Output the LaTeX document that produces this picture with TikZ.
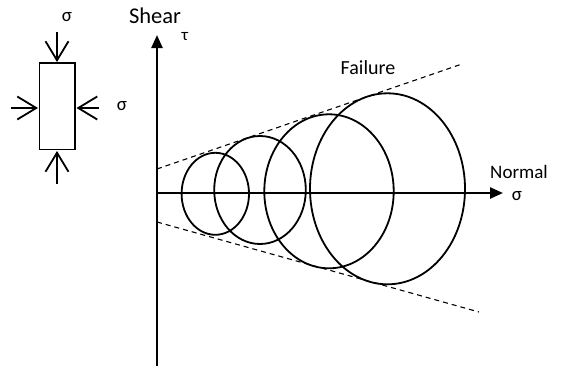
\documentclass[tikz,border=0pt]{standalone}
\usepackage{fontspec}
\setmainfont{Carlito}
\usetikzlibrary{arrows.meta}
\begin{document}
\begin{tikzpicture}[x=1pt,y=-1pt,
  axis/.style={line width=2.4pt,-{Triangle[length=13pt,width=11pt]}},
  load/.style={line width=1.8pt,-{Straight Barb[length=19pt,width=23pt]}},
  mohr/.style={line width=1.8pt},
  envelope/.style={line width=1.1pt,dash pattern=on 5pt off 4pt},
  lbl/.style={font=\fontsize{19}{20}\selectfont,inner sep=0pt},
  grk/.style={font=\fontsize{19}{20}\selectfont,inner sep=0pt}]
\useasboundingbox (0,0) rectangle (561,367);
% element
\draw[line width=1.8pt] (39.5,63) rectangle (75,149.5);
\coordinate (ttop) at (57,32);
\coordinate (tend) at (57,62);
\coordinate (bbot) at (57,184);
\coordinate (bend) at (57,151);
\coordinate (lst) at (11,108);
\coordinate (lend) at (38,108);
\coordinate (rst) at (99,108);
\coordinate (rend) at (76.5,108);
\draw[load] (ttop) -- (tend);
\draw[load] (bbot) -- (bend);
\draw[load] (lst) -- (lend);
\draw[load] (rst) -- (rend);
\node[grk] (s1) at (67,17) {σ};
\node[grk] (s2) at (122,106) {σ};
% axes
\coordinate (O) at (157,193);
\coordinate (vb) at (157,366);
\coordinate (vt) at (157,35);
\coordinate (hr) at (503,193);
\draw[axis] (vb) -- (vt);
\draw[axis] (O) -- (hr);
\node[lbl,font=\fontsize{22.5}{24}\selectfont] (shear) at (155,16) {Shear};
\node[grk,font=\fontsize{17}{18}\selectfont] (tau) at (185,37) {τ};
\node[lbl] (normal) at (519,172) {Normal};
\node[grk] (s3) at (517,196) {σ};
% failure envelope
\coordinate (u1) at (157,169);
\coordinate (u2) at (462,64);
\coordinate (l1) at (157,222);
\coordinate (l2) at (479,312);
\draw[envelope] (u1) -- (u2);
\draw[envelope] (l1) -- (l2);
\node[lbl,font=\fontsize{20}{22}\selectfont] (fail) at (368,68) {Failure};
% Mohr circles
\draw[mohr] (215.3,193.8) ellipse [x radius=33.7, y radius=41];
\draw[mohr] (260,190) ellipse [x radius=45.8, y radius=54];
\draw[mohr] (329,191.3) ellipse [x radius=64.7, y radius=77];
\draw[mohr] (387.5,188.8) ellipse [x radius=77.5, y radius=95.5];
\end{tikzpicture}
\end{document}
